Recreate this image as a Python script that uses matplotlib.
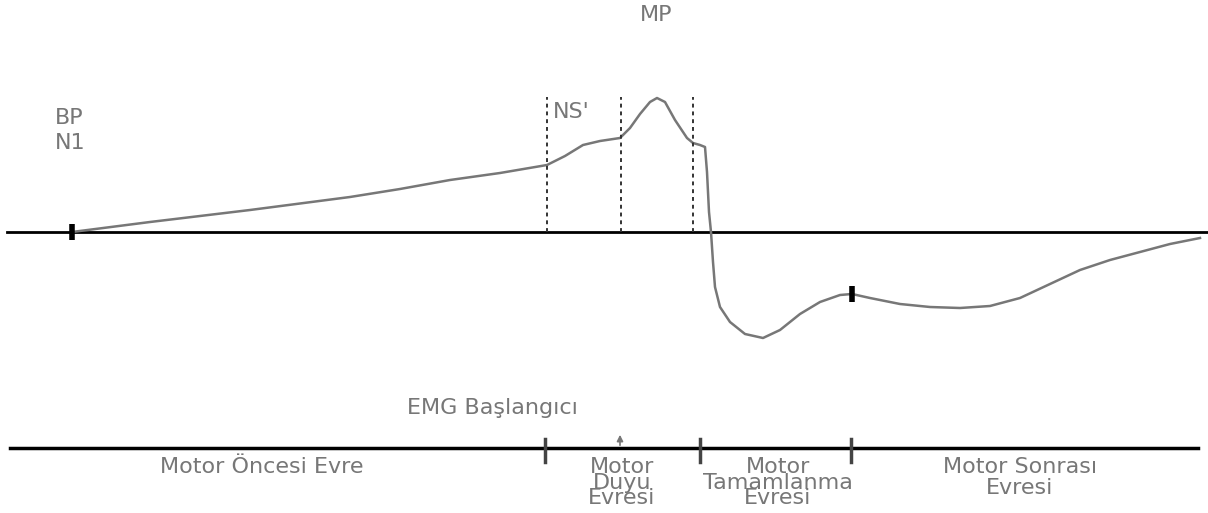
import matplotlib
matplotlib.use("Agg")
from matplotlib import pyplot as plt

# readiness potential trace (time in arbitrary units, amplitude relative to baseline)
trace_t = [72, 150, 250, 350, 400, 450, 500, 547, 565, 583, 600, 620, 630, 640,
           650, 657, 665, 675, 687, 693, 700, 705, 707, 709, 711, 713, 715, 720,
           730, 745, 763, 780, 800, 820, 840, 852, 870, 900, 930, 960, 990, 1020,
           1050, 1080, 1110, 1140, 1170, 1200]
trace_v = [0, 10, 22, 35, 43, 52, 59, 67, 76, 87, 91, 94, 104, 118,
           130, 134, 130, 112, 94, 89, 87, 85, 60, 20, 0, -30, -55, -75,
           -90, -102, -106, -98, -82, -70, -63, -62, -66, -72, -75, -76, -74, -66,
           -52, -38, -28, -20, -12, -6]

trace_marks_t = [72, 852]
trace_marks_v = [0, -62]

window_t = [547, 621, 693]          # NS' / MP borders
window_top = 135

phase_ticks = [545, 700, 851]
emg_onset = 620
phase_labels = ["Motor Öncesi Evre", "Motor\nDuyu\nEvresi",
                "Motor\nTamamlanma\nEvresi", "Motor Sonrası\nEvresi"]
phase_label_t = [262, 622, 778, 1020]
phase_spacing = [1.0, 0.72, 0.72, 1.05]

timeline_v = -216
grey = "#777777"
txt = dict(color=grey, fontsize=16)

fig = plt.figure(figsize=(12.08, 5.13), dpi=100)
ax = fig.add_axes([0, 0, 1, 1])
ax.set_xlim(0, 1208)
ax.set_ylim(232 - 513, 232)
ax.axis("off")

# baseline and trace
ax.plot([7, 1208], [0, 0], color="black", lw=2)
ax.plot(trace_t, trace_v, color=grey, lw=1.8)
ax.plot(trace_marks_t, trace_marks_v, ls="none", marker="|", ms=12, mew=4, color="black")

for t in window_t:
    ax.plot([t, t], [0, window_top], color="#333333", lw=1.4, ls=(0, (2, 2)))

ax.text(55, 114, "BP", va="center", **txt)
ax.text(55, 89, "N1", va="center", **txt)
ax.text(656, 217, "MP", ha="center", va="center", **txt)
ax.text(553, 120, "NS'", va="center", **txt)

# phase timeline
ax.plot([10, 1198], [timeline_v, timeline_v], color="black", lw=2.5)
for t in phase_ticks:
    ax.plot([t, t], [timeline_v + 9, timeline_v - 14], color="#444444", lw=2.5)
ax.annotate("", xy=(emg_onset, timeline_v + 16), xytext=(emg_onset, timeline_v),
            arrowprops=dict(arrowstyle="-|>", color=grey, lw=1.2, mutation_scale=9))
ax.text(492, timeline_v + 40, "EMG Başlangıcı", ha="center", va="center", **txt)

for t, lab, ls in zip(phase_label_t, phase_labels, phase_spacing):
    ax.text(t, timeline_v - 9, lab, ha="center", va="top", linespacing=ls, **txt)

fig.savefig("out.png", dpi=100, facecolor="white")
